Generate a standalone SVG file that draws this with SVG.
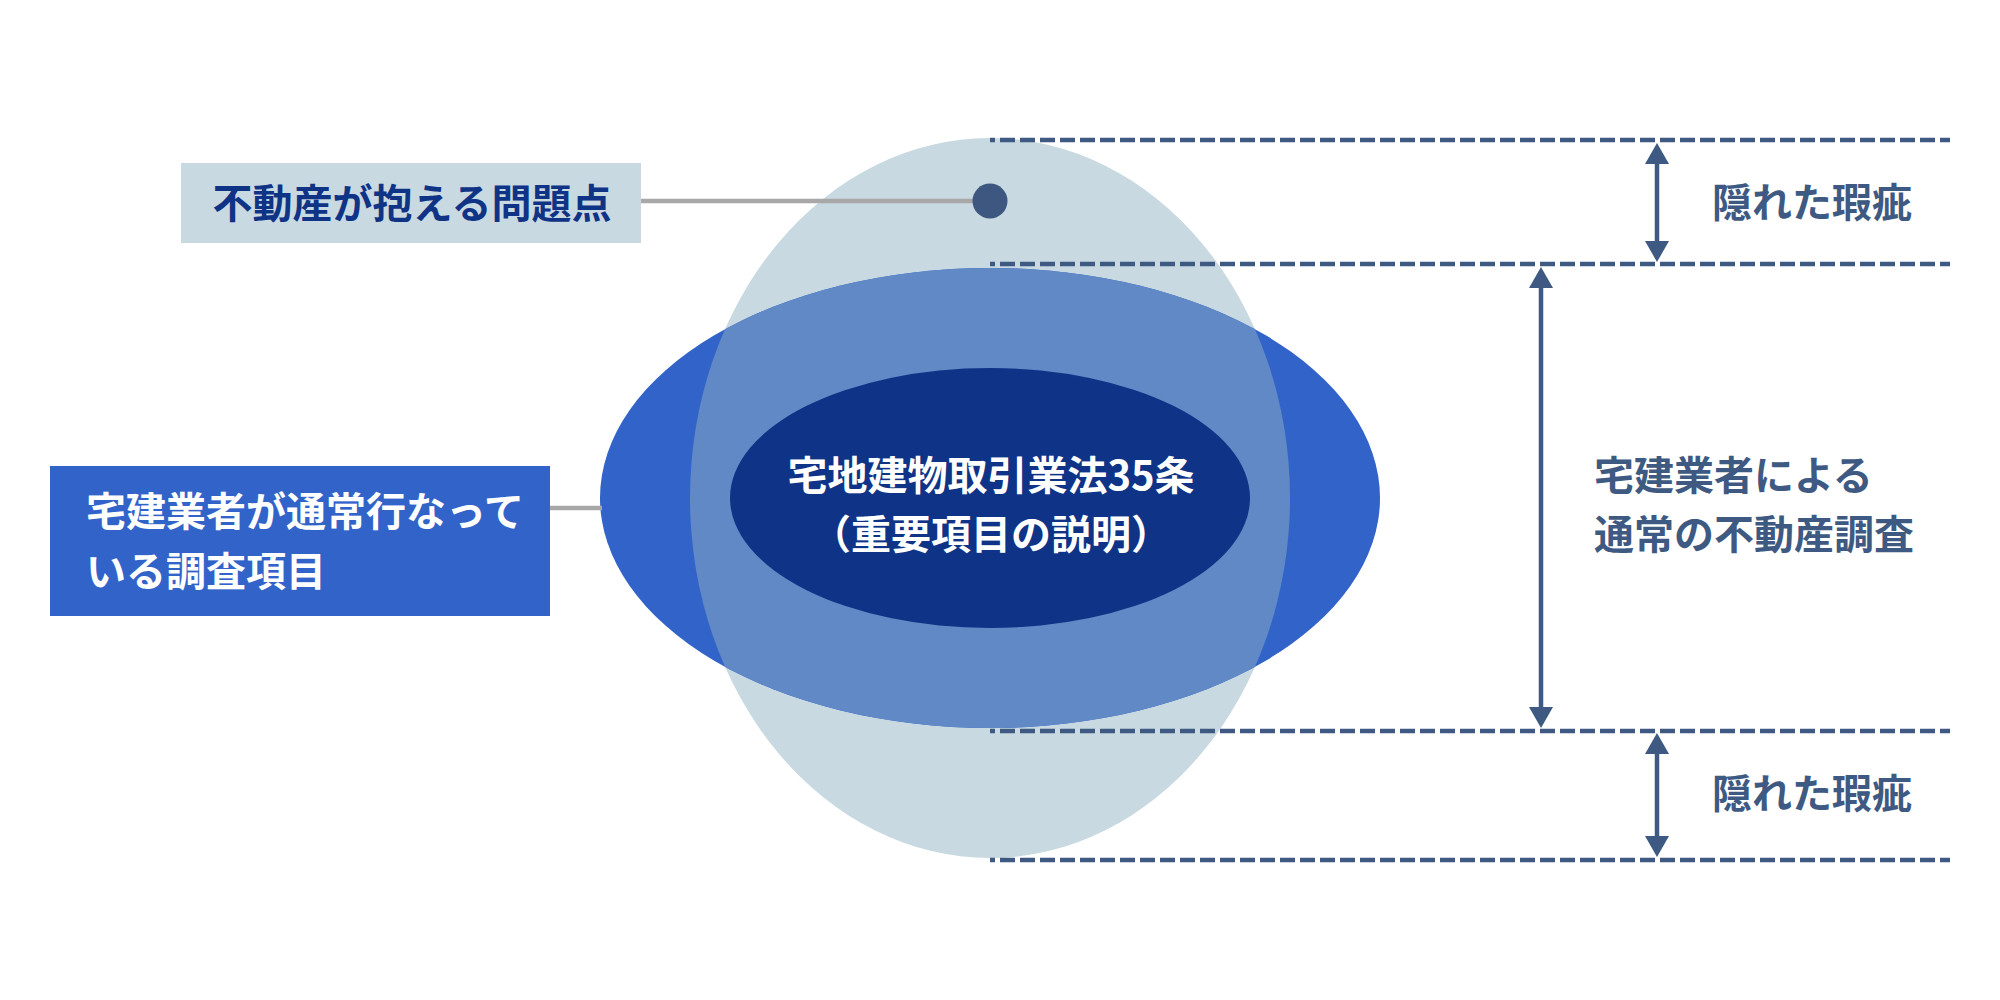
<svg xmlns="http://www.w3.org/2000/svg" width="2000" height="1000" viewBox="0 0 2000 1000">
<style>
.t{font-family:"Noto Sans CJK JP","Noto Sans",sans-serif;font-weight:700}
.dash{stroke:#3E5A82;stroke-width:4.5;stroke-dasharray:15 5;stroke-dashoffset:10;fill:none}
.lead{stroke:#A8A8A8;stroke-width:4.5;fill:none}
.arr{stroke:#3E5A82;stroke-width:4.5;fill:none}
.head{fill:#3E5A82}
</style>
<defs>
<clipPath id="blueClip"><ellipse cx="990" cy="498" rx="390" ry="230"/></clipPath>
</defs>
<rect width="2000" height="1000" fill="#FFFFFF"/>
<g id="scope-shapes">
<ellipse id="hidden-defects-area" cx="990" cy="498" rx="300" ry="360" fill="#C8D9E1"/>
<ellipse id="normal-survey-area" cx="990" cy="498" rx="390" ry="230" fill="#3263C9"/>
<ellipse cx="990" cy="498" rx="300" ry="360" fill="#6189C5" clip-path="url(#blueClip)"/>
</g>
<g id="connectors">
<line class="lead" x1="641" y1="201" x2="975" y2="201"/>
<line class="lead" x1="550" y1="508" x2="602" y2="508"/>
<line class="dash" x1="990" y1="140" x2="1950" y2="140"/>
<line class="dash" x1="990" y1="264" x2="1950" y2="264"/>
<line class="dash" x1="990" y1="731" x2="1950" y2="731"/>
<line class="dash" x1="990" y1="860" x2="1950" y2="860"/>
<line class="arr" x1="1657" y1="160" x2="1657" y2="245"/>
<polygon class="head" points="1657,143 1645,164 1669,164"/>
<polygon class="head" points="1657,262 1645,241 1669,241"/>
<line class="arr" x1="1541" y1="284" x2="1541" y2="712"/>
<polygon class="head" points="1541,267 1529,288 1553,288"/>
<polygon class="head" points="1541,728 1529,707 1553,707"/>
<line class="arr" x1="1657" y1="750" x2="1657" y2="840"/>
<polygon class="head" points="1657,733 1645,754 1669,754"/>
<polygon class="head" points="1657,857 1645,836 1669,836"/>
</g>
<g id="dot">
<circle cx="990" cy="201" r="17.5" fill="#3D5780"/>
</g>
<g id="article35">
<ellipse cx="990" cy="498" rx="260" ry="130" fill="#0F3386"/>
<text class="t" x="991" y="490" font-size="40" fill="#FFFFFF" text-anchor="middle">宅地建物取引業法35条</text>
<text class="t" x="991" y="549" font-size="40" fill="#FFFFFF" text-anchor="middle">（重要項目の説明）</text>
</g>
<g id="label-problems">
<rect x="181" y="163" width="460" height="80" fill="#C8D9E2"/>
<text class="t" x="412" y="218" font-size="40" fill="#0F3385" text-anchor="middle">不動産が抱える問題点</text>
</g>
<g id="label-survey-items">
<rect x="50" y="466" width="500" height="150" fill="#3263C9"/>
<text class="t" x="86" y="526" font-size="40" fill="#FFFFFF">宅建業者が通常行なって</text>
<text class="t" x="86" y="586" font-size="40" fill="#FFFFFF">いる調査項目</text>
</g>
<g id="label-hidden-top">
<text class="t" x="1712" y="217" font-size="40" fill="#3E5A82">隠れた瑕疵</text>
</g>
<g id="label-normal-survey">
<text class="t" x="1594" y="490" font-size="40" fill="#3E5A82">宅建業者による</text>
<text class="t" x="1594" y="549" font-size="40" fill="#3E5A82">通常の不動産調査</text>
</g>
<g id="label-hidden-bottom">
<text class="t" x="1712" y="808" font-size="40" fill="#3E5A82">隠れた瑕疵</text>
</g>
</svg>
